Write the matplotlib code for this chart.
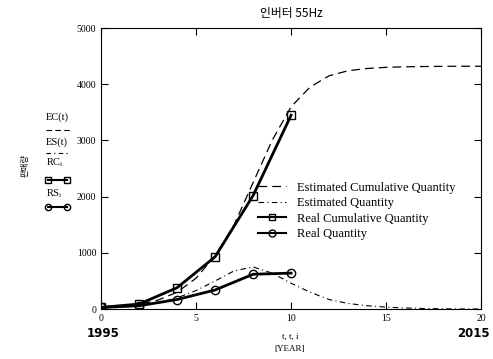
import matplotlib
matplotlib.use("Agg")
import matplotlib.pyplot as plt
from matplotlib.lines import Line2D

# data
t_est = list(range(0, 21))
est_cum = [20, 40, 80, 160, 300, 550, 950, 1500, 2250, 3000, 3600, 3950, 4150, 4240, 4280, 4300, 4310, 4315, 4318, 4320, 4320]
est_qty = [20, 30, 60, 110, 200, 330, 500, 680, 750, 640, 460, 300, 170, 100, 60, 35, 20, 10, 5, 2, 1]
t_real = [0, 2, 4, 6, 8, 10]
real_cum = [30, 90, 380, 930, 2020, 3450]
real_qty = [30, 60, 170, 340, 620, 640]
x_ticks = [0, 5, 10, 15, 20]
y_ticks = [0, 1000, 2000, 3000, 4000, 5000]
title = "인버터 55Hz"
legend_labels = ["Estimated Cumulative Quantity", "Estimated Quantity",
                 "Real Cumulative Quantity", "Real Quantity"]

plt.rcParams['font.family'] = ['Liberation Serif', 'Noto Sans CJK KR']

fig = plt.figure(figsize=(4.93, 3.59), dpi=100)
ax = fig.add_axes([0.205, 0.139, 0.771, 0.783])

ax.plot(t_est, est_cum, color='black', lw=0.9, dashes=(7, 4))
ax.plot(t_est, est_qty, color='black', lw=0.8, dashes=(5, 3, 1, 3))
ax.plot(t_real, real_cum, color='black', lw=2, marker='s', mfc='none', ms=6, mew=1)
ax.plot(t_real, real_qty, color='black', lw=2, marker='o', mfc='none', ms=6, mew=1)

ax.set_xlim(0, 20)
ax.set_ylim(0, 5000)
ax.set_xticks(x_ticks)
ax.set_yticks(y_ticks)
ax.tick_params(direction='in', top=True, right=True, labelsize=7, length=5, width=0.8)
for s in ax.spines.values():
    s.set_linewidth(0.8)

ax.set_title(title, fontsize=8.5, family=['Noto Sans CJK KR', 'DejaVu Sans'], pad=8)

handles = [
    Line2D([], [], color='black', lw=0.9, dashes=(7, 4)),
    Line2D([], [], color='black', lw=0.8, dashes=(5, 3, 1, 3)),
    Line2D([], [], color='black', lw=1.5, marker='s', mfc='none', ms=5),
    Line2D([], [], color='black', lw=1.5, marker='o', mfc='none', ms=5),
]
ax.legend(handles, legend_labels, loc='upper left', bbox_to_anchor=(0.39, 0.485),
          frameon=False, fontsize=9, handlelength=2.2, labelspacing=0.28,
          handletextpad=0.9, borderpad=0.2)

# left side labels
fig.text(0.093, 0.674, "EC(t)", fontsize=7.5, va='center')
fig.lines.append(Line2D([0.093, 0.142], [0.638, 0.638], color='black', lw=0.8, dashes=(5, 3), transform=fig.transFigure))
fig.text(0.093, 0.604, "ES(t)", fontsize=7.5, va='center')
fig.lines.append(Line2D([0.093, 0.142], [0.574, 0.574], color='black', lw=0.8, dashes=(4, 3, 1, 3), transform=fig.transFigure))
fig.text(0.093, 0.546, "RC$_\\mathregular{i}$", fontsize=7.5, va='center')
fig.lines.append(Line2D([0.098, 0.135], [0.499, 0.499], color='black', lw=1.5, marker='s', mfc='none', ms=4.5, transform=fig.transFigure))
fig.text(0.093, 0.462, "RS$_\\mathregular{i}$", fontsize=7.5, va='center')
fig.lines.append(Line2D([0.098, 0.135], [0.423, 0.423], color='black', lw=1.5, marker='o', mfc='none', ms=4.5, transform=fig.transFigure))
fig.text(0.05, 0.54, "판매량", fontsize=6, rotation=90, va='center', ha='center',
         family=['Noto Sans CJK KR', 'DejaVu Sans'])

# x labels
fig.text(0.21, 0.062, "1995", fontsize=8.5, fontweight='bold', ha='center', family='DejaVu Sans')
fig.text(0.96, 0.062, "2015", fontsize=8.5, fontweight='bold', ha='center', family='DejaVu Sans')
fig.text(0.588, 0.055, "t, t, i", fontsize=6.5, ha='center')
fig.text(0.588, 0.022, "[YEAR]", fontsize=6.5, ha='center')

fig.savefig("out.png", dpi=100)
